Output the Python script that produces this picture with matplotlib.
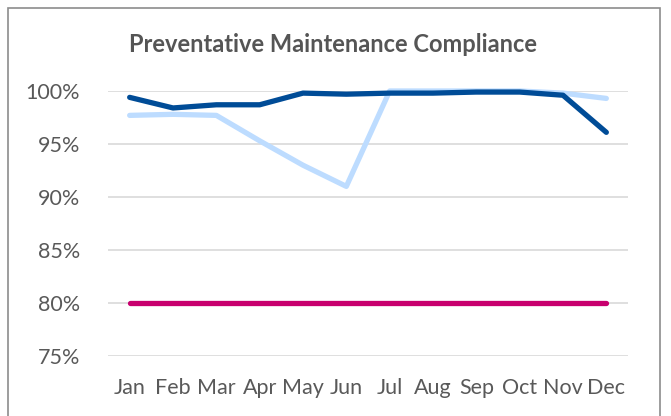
import matplotlib
matplotlib.use("Agg")
import matplotlib.pyplot as plt
from matplotlib.patches import Rectangle

plt.rcParams['font.family'] = ['Lato', 'DejaVu Sans']

months = ['Jan', 'Feb', 'Mar', 'Apr', 'May', 'Jun', 'Jul', 'Aug', 'Sep', 'Oct', 'Nov', 'Dec']
series_dark = [99.4, 98.4, 98.7, 98.7, 99.8, 99.7, 99.8, 99.8, 99.9, 99.9, 99.6, 96.1]
series_light = [97.7, 97.8, 97.7, 95.3, 93.0, 91.0, 100.0, 100.0, 100.0, 100.0, 99.8, 99.3]
target = [80] * 12
yticks = [75, 80, 85, 90, 95, 100]
ytick_labels = ['75%', '80%', '85%', '90%', '95%', '100%']

fig = plt.figure(figsize=(6.71, 4.16), dpi=100)
fig.patches.append(Rectangle((8/671, -0.05), (660-8)/671, 1 - 8/416 + 0.05,
                             transform=fig.transFigure, fill=False,
                             edgecolor='#8c8c8c', linewidth=1.2))
ax = fig.add_axes([108/671, 1-356/416, (628-108)/671, (356-91)/416])

x = list(range(len(months)))
ax.plot(x, series_light, color='#bddcff', lw=3.8, solid_capstyle='round', clip_on=False, zorder=3)
ax.plot(x, series_dark, color='#004c97', lw=3.8, solid_capstyle='round', clip_on=False, zorder=4)
ax.plot(x, target, color='#c8006e', lw=3.8, solid_capstyle='round', clip_on=False, zorder=3)

ax.set_xlim(-0.5, 11.5)
ax.set_ylim(75, 100)
ax.set_yticks(yticks)
ax.set_yticklabels(ytick_labels)
ax.set_xticks(x)
ax.set_xticklabels(months)
ax.grid(axis='y', color='#d9d9d9', lw=1.2)
ax.set_axisbelow(True)
for s in ax.spines.values():
    s.set_visible(False)
ax.tick_params(axis='both', length=0, labelsize=15.5, colors='#595959')
ax.tick_params(axis='x', pad=16)
ax.tick_params(axis='y', pad=20)

fig.text(333/671, 1-45/416, 'Preventative Maintenance Compliance', ha='center', va='center',
         fontsize=17, fontweight='bold', color='#555555')

fig.savefig('out.png', dpi=100)
